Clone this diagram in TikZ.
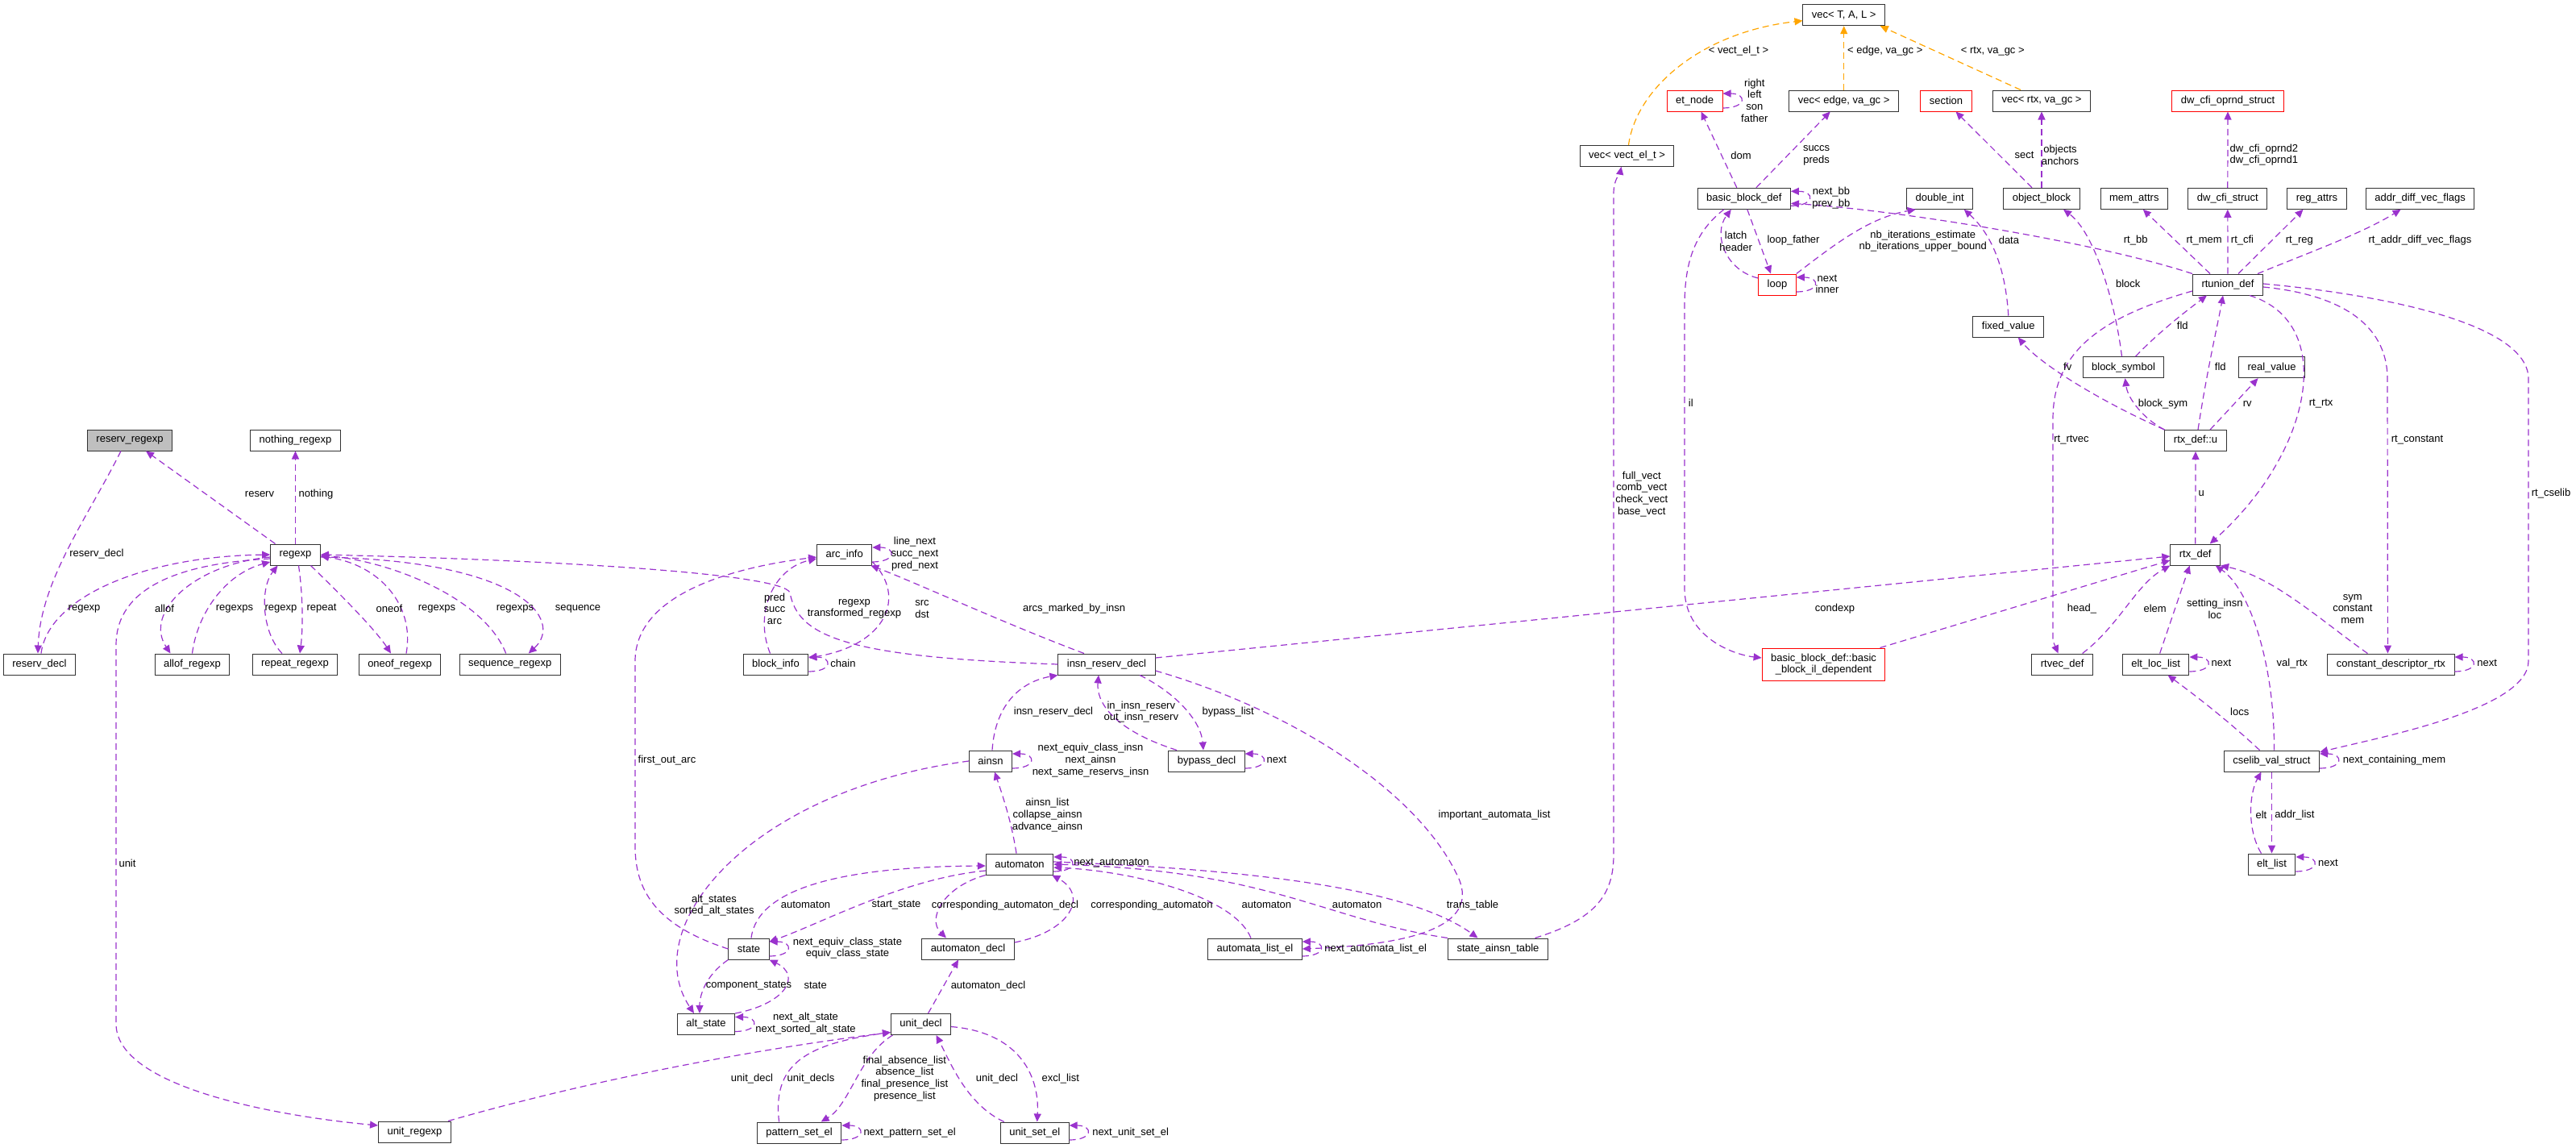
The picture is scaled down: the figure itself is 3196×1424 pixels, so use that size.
\documentclass[tikz,border=0pt]{standalone}
\usepackage{fontspec}
\setmainfont{Liberation Sans}
\usepackage{xcolor}
\usepackage{tikz}
\usetikzlibrary{arrows.meta}
\definecolor{edgecol}{HTML}{9A32CD}
\definecolor{tmplcol}{HTML}{FFA500}

\begin{document}
\begin{tikzpicture}[x=1pt,y=-1pt,>={Triangle[length=10pt,width=9pt]},
  box/.style={draw=black!80,line width=1pt,fill=white,minimum height=26pt,inner xsep=11pt,inner ysep=0pt,font=\fontsize{13}{14.7}\selectfont,align=center},
  redbox/.style={box,draw=red},
  lbl/.style={inner sep=0pt,font=\fontsize{13}{14.7}\selectfont,align=center},
  dep/.style={->,draw=edgecol,line width=1.2pt,dash pattern=on 8pt off 5pt},
  tmpl/.style={dep,draw=tmplcol}]
\useasboundingbox (0,0) rectangle (3196,1424);

\node[box,fill=black!25] (reservregexp) at (161,546) {reserv\_regexp};
\node[box] (nothingregexp) at (366.5,546) {nothing\_regexp};
\node[box] (regexp) at (366.5,688) {regexp};
\node[box] (reservdecl) at (49,824) {reserv\_decl};
\node[box] (allofregexp) at (238.5,824) {allof\_regexp};
\node[box] (repeatregexp) at (366,824) {repeat\_regexp};
\node[box] (oneofregexp) at (496,824) {oneof\_regexp};
\node[box] (sequenceregexp) at (632.7,824) {sequence\_regexp};
\node[box] (unitregexp) at (514.5,1404) {unit\_regexp};
\node[box] (arcinfo) at (1047.7,688) {arc\_info};
\node[box] (blockinfo) at (962.5,824) {block\_info};
\node[box] (insnreservdecl) at (1373,824) {insn\_reserv\_decl};
\node[box] (ainsn) at (1229,944) {ainsn};
\node[box] (bypassdecl) at (1497,944) {bypass\_decl};
\node[box] (automaton) at (1265,1072) {automaton};
\node[box] (state) at (929,1177) {state};
\node[box] (automatondecl) at (1201,1177) {automaton\_decl};
\node[box] (altstate) at (876,1270.5) {alt\_state};
\node[box] (unitdecl) at (1142.5,1270.5) {unit\_decl};
\node[box] (patternsetel) at (991.6,1405) {pattern\_set\_el};
\node[box] (unitsetel) at (1283.7,1405) {unit\_set\_el};
\node[box] (automatalistel) at (1557,1177) {automata\_list\_el};
\node[box] (stateainsntable) at (1858.5,1177) {state\_ainsn\_table};

\node[box] (vecTAL) at (2287.7,18.7) {vec< T, A, L >};
\node[redbox] (etnode) at (2102.5,125) {et\_node};
\node[box] (vecedge) at (2287.7,125) {vec< edge, va\_gc >};
\node[redbox] (section) at (2414.5,125) {section};
\node[box] (vecrtx) at (2533,125) {vec< rtx, va\_gc >};
\node[redbox] (dwcfioprnd) at (2764,125) {dw\_cfi\_oprnd\_struct};
\node[box] (vecvect) at (2018.5,193.3) {vec< vect\_el\_t >};
\node[box] (bbdef) at (2163.8,246.3) {basic\_block\_def};
\node[box] (doubleint) at (2406.7,246.3) {double\_int};
\node[box] (objectblock) at (2533,246.3) {object\_block};
\node[box] (memattrs) at (2647.8,246.3) {mem\_attrs};
\node[box] (dwcfistruct) at (2763.8,246.3) {dw\_cfi\_struct};
\node[box] (regattrs) at (2874.5,246.3) {reg\_attrs};
\node[box] (addrdiff) at (3002.6,246.3) {addr\_diff\_vec\_flags};
\node[redbox] (loop) at (2205,353) {loop};
\node[box] (rtunion) at (2764,353) {rtunion\_def};
\node[box] (fixedvalue) at (2491.8,405) {fixed\_value};
\node[box] (blocksymbol) at (2634.5,455.7) {block\_symbol};
\node[box] (realvalue) at (2818.5,455.7) {real\_value};
\node[box] (rtxu) at (2724,546.5) {rtx\_def::u};
\node[box] (rtxdef) at (2723.7,688) {rtx\_def};
\node[redbox,minimum height=40pt] (bbil) at (2262.5,824) {basic\_block\_def::basic\\\_block\_il\_dependent};
\node[box] (rtvecdef) at (2558.6,824) {rtvec\_def};
\node[box] (eltloclist) at (2674.6,824) {elt\_loc\_list};
\node[box] (constdesc) at (2966.4,824) {constant\_descriptor\_rtx};
\node[box] (cselib) at (2818.5,944) {cselib\_val\_struct};
\node[box] (eltlist) at (2818.5,1072) {elt\_list};

\draw[dep] ([xshift=-25pt]regexp.north) -- ([xshift=20pt]reservregexp.south);
\draw[dep] (regexp.north) -- (nothingregexp.south);
\draw[dep] ([xshift=-11pt]reservregexp.south) .. controls (110,640) and (50,720) .. ([xshift=-2pt]reservdecl.north);
\draw[dep] ([xshift=2pt]reservdecl.north) .. controls (60,740) and (180,690) .. (regexp.west);
\draw[dep] ([yshift=-3pt]regexp.west) .. controls (240,700) and (178,760) .. ([xshift=-27pt]allofregexp.north);
\draw[dep] (allofregexp.north) .. controls (245,760) and (280,712) .. ([yshift=-9pt]regexp.west);
\draw[dep] ([xshift=4pt]regexp.south) .. controls (376,740) and (376,780) .. ([xshift=6pt]repeatregexp.north);
\draw[dep] ([xshift=-16pt]repeatregexp.north) .. controls (325,785) and (322,730) .. ([xshift=-22pt]regexp.south);
\draw[dep] ([xshift=19pt]regexp.south) .. controls (420,735) and (465,780) .. ([xshift=-11pt]oneofregexp.north);
\draw[dep] ([xshift=8pt]oneofregexp.north) .. controls (515,750) and (470,700) .. ([yshift=-2pt]regexp.east);
\draw[dep] ([xshift=-5pt]sequenceregexp.north) .. controls (600,740) and (480,695) .. ([yshift=-1pt]regexp.east);
\draw[dep] ([yshift=-3pt]regexp.east) .. controls (650,695) and (700,770) .. ([xshift=23pt]sequenceregexp.north);
\draw[dep] ([yshift=-5pt]regexp.west) .. controls (200,700) and (144,740) .. (144,800) -- (144,1270) .. controls (144,1350) and (350,1385) .. ([yshift=8pt]unitregexp.west);
\draw[dep] ([xshift=-4pt]unitregexp.north east) .. controls (750,1335) and (950,1300) .. ([yshift=-10pt]unitdecl.west);

\draw[dep] ([xshift=-7pt]blockinfo.north) .. controls (935,760) and (960,705) .. ([yshift=-5pt]arcinfo.west);
\draw[dep] ([yshift=-9pt]arcinfo.east) .. controls (1125,740) and (1100,800) .. ([yshift=8pt]blockinfo.east);
\draw[dep] ([xshift=-28pt]insnreservdecl.north) .. controls (1250,775) and (1130,720) .. ([xshift=-2pt]arcinfo.south east);
\draw[dep] (insnreservdecl.west) .. controls (1050,815) and (990,790) .. (980,735) .. controls (970,712) and (700,695) .. (regexp.east);
\draw[dep] ([yshift=8pt]insnreservdecl.east) -- ([yshift=-2pt]rtxdef.west);
\draw[dep] ([xshift=41pt]insnreservdecl.south) .. controls (1460,860) and (1490,895) .. ([xshift=-4pt]bypassdecl.north);
\draw[dep] ([xshift=-37pt]bypassdecl.north) .. controls (1380,905) and (1360,870) .. ([xshift=-10pt]insnreservdecl.south);
\draw[dep] ([xshift=2pt]ainsn.north) .. controls (1235,870) and (1270,845) .. (insnreservdecl.south west);
\draw[dep] ([xshift=-4pt]automaton.north) .. controls (1255,1020) and (1245,990) .. ([xshift=5pt]ainsn.south);
\draw[dep] (ainsn.west) .. controls (930,980) and (790,1150) .. ([xshift=-15pt]altstate.north);
\draw[dep] (state.west) .. controls (820,1150) and (788,1110) .. (788,1050) -- (788,820) .. controls (788,740) and (900,705) .. ([yshift=-3pt]arcinfo.west);
\draw[dep] ([xshift=3pt]state.north) .. controls (940,1100) and (1050,1075) .. ([yshift=-2pt]automaton.west);
\draw[dep] ([yshift=-8pt]automaton.west) .. controls (1120,1090) and (1020,1145) .. ([yshift=9pt]state.east);
\draw[dep] (automaton.south west) .. controls (1170,1100) and (1150,1140) .. ([xshift=-27pt]automatondecl.north);
\draw[dep] ([yshift=8pt]automatondecl.east) .. controls (1330,1155) and (1350,1110) .. ([xshift=-2pt]automaton.south east);
\draw[dep] ([xshift=-5pt]automatalistel.north) .. controls (1530,1110) and (1400,1080) .. ([yshift=-4pt]automaton.east);
\draw[dep] (stateainsntable.north west) .. controls (1640,1140) and (1580,1080) .. (automaton.east);
\draw[dep] ([yshift=3pt]automaton.east) .. controls (1600,1080) and (1760,1110) .. ([xshift=-25pt]stateainsntable.north);
\draw[dep] ([yshift=-8pt]insnreservdecl.east) .. controls (1600,880) and (1760,980) .. (1810,1090) .. controls (1835,1150) and (1750,1172) .. (automatalistel.east);
\draw[dep] ([xshift=46pt]stateainsntable.north) .. controls (1980,1140) and (2002,1110) .. (2002,1060) -- (2002,240) .. controls (2002,222) and (2010,215) .. ([xshift=-7pt]vecvect.south);
\draw[dep] (state.south west) .. controls (875,1210) and (868,1235) .. ([xshift=-8pt]altstate.north);
\draw[dep] (altstate.north east) .. controls (975,1245) and (995,1210) .. (state.south east);
\draw[dep] ([xshift=9pt]unitdecl.north) -- ([xshift=-12pt]automatondecl.south);
\draw[dep] ([xshift=-25pt]patternsetel.north) .. controls (958,1320) and (1000,1295) .. ([yshift=-10pt]unitdecl.west);
\draw[dep] ([xshift=-35pt]unitdecl.south) .. controls (1065,1310) and (1055,1370) .. ([xshift=27pt]patternsetel.north);
\draw[dep] ([yshift=-3pt]unitdecl.east) .. controls (1260,1280) and (1290,1330) .. ([xshift=3pt]unitsetel.north);
\draw[dep] ([xshift=-38pt]unitsetel.north) .. controls (1200,1370) and (1180,1320) .. ([xshift=19pt]unitdecl.south);

\draw[tmpl] ([xshift=2pt]vecvect.north) .. controls (2030,110) and (2110,40) .. ([yshift=-7pt]vecTAL.west);
\draw[tmpl] (vecedge.north) -- (vecTAL.south);
\draw[tmpl] ([xshift=-26pt]vecrtx.north) -- ([xshift=45pt]vecTAL.south);
\draw[dep] ([xshift=-25pt]bbdef.south) .. controls (2100,290) and (2090,330) .. (2090,380) -- (2090,730) .. controls (2090,790) and (2150,812) .. ([yshift=8pt]bbil.west);
\draw[dep] ([xshift=70pt]bbil.north) -- ([yshift=-7pt]rtxdef.west);
\draw[dep] ([xshift=15pt]bbdef.north) -- ([xshift=-17pt]vecedge.south);
\draw[dep] ([xshift=-9pt]bbdef.north) -- ([xshift=8pt]etnode.south);
\draw[dep] ([xshift=-12pt]objectblock.north) -- ([xshift=12pt]section.south);
\draw[dep] (objectblock.north) -- (vecrtx.south);
\draw[dep] ([xshift=4pt]bbdef.south) -- ([xshift=-8pt]loop.north);
\draw[dep] ([yshift=8pt]loop.west) .. controls (2140,335) and (2125,290) .. ([xshift=-16pt]bbdef.south);
\draw[dep] (loop.north east) .. controls (2280,300) and (2320,270) .. ([xshift=-30pt]doubleint.south);
\draw[dep] (fixedvalue.north) .. controls (2488,330) and (2470,290) .. ([xshift=30pt]doubleint.south);
\draw[dep] (rtunion.north west) .. controls (2600,300) and (2350,260) .. ([yshift=-6pt]bbdef.east);
\draw[dep] ([xshift=-22pt]rtunion.north) -- ([xshift=11pt]memattrs.south);
\draw[dep] (rtunion.north) -- (dwcfistruct.south);
\draw[dep] ([xshift=13pt]rtunion.north) -- ([xshift=-17pt]regattrs.south);
\draw[dep] ([xshift=37pt]rtunion.north) .. controls (2860,315) and (2930,290) .. ([xshift=-24pt]addrdiff.south);
\draw[dep] (dwcfistruct.north) -- (dwcfioprnd.south);
\draw[dep] ([xshift=-2pt]blocksymbol.north) .. controls (2625,380) and (2600,290) .. ([xshift=27pt]objectblock.south);
\draw[dep] ([xshift=15pt]blocksymbol.north) .. controls (2680,410) and (2720,380) .. ([xshift=-26pt]rtunion.south);
\draw[dep] ([xshift=3pt]rtxu.north) .. controls (2738,460) and (2752,400) .. ([xshift=-6pt]rtunion.south);
\draw[dep] (rtxu.north west) .. controls (2660,520) and (2640,495) .. ([xshift=2pt]blocksymbol.south);
\draw[dep] ([xshift=18pt]rtxu.north) -- ([xshift=-17pt]realvalue.south);
\draw[dep] (rtxu.north west) .. controls (2600,495) and (2530,450) .. ([xshift=12pt]fixedvalue.south);
\draw[dep] ([yshift=-8pt]rtunion.west) .. controls (2600,395) and (2547,440) .. (2547,520) -- (2547,795) -- ([xshift=-5pt]rtvecdef.north);
\draw[dep] ([xshift=27pt]rtunion.south) .. controls (2900,400) and (2870,560) .. ([xshift=18pt]rtxdef.north);
\draw[dep] ([yshift=-3pt]rtunion.east) .. controls (2900,365) and (2962,400) .. (2962,470) -- ([xshift=-4pt]constdesc.north);
\draw[dep] ([yshift=1pt]rtunion.east) .. controls (2950,365) and (3137,400) .. (3137,470) -- (3137,820) .. controls (3137,880) and (2950,915) .. ([yshift=11pt]cselib.east);
\draw[dep] (rtxdef.north) -- (rtxu.south);
\draw[dep] ([xshift=25pt]rtvecdef.north) .. controls (2630,775) and (2650,725) .. (rtxdef.south west);
\draw[dep] ([xshift=5pt]eltloclist.north) -- ([xshift=-7pt]rtxdef.south);
\draw[dep] ([xshift=-29pt]constdesc.north) .. controls (2880,770) and (2820,715) .. (rtxdef.south east);
\draw[dep] ([xshift=3pt]cselib.north) .. controls (2822,820) and (2790,730) .. ([xshift=25pt]rtxdef.south);
\draw[dep] ([xshift=-15pt]cselib.north) .. controls (2760,890) and (2720,860) .. ([xshift=15pt]eltloclist.south);
\draw[dep] (cselib.south) -- (eltlist.north);
\draw[dep] ([xshift=-13pt]eltlist.north) .. controls (2788,1030) and (2790,985) .. ([xshift=-13pt]cselib.south);

\foreach \n in {arcinfo,blockinfo,ainsn,bypassdecl,automaton,state,altstate,patternsetel,unitsetel,automatalistel,etnode,bbdef,loop,eltloclist,constdesc,cselib,eltlist}
  \draw[dep] ([yshift=-9pt]\n.east) .. controls +(30,0) and +(30,0) .. ([yshift=9pt]\n.east);

\node[lbl] (lreserv) at (322,613) {reserv};
\node[lbl] (lnothing) at (392,613) {nothing};
\node[lbl] (lreservdecl) at (120,687) {reserv\_decl};
\node[lbl] (lregexpa) at (104.6,755) {regexp};
\node[lbl] (lallof) at (204,755) {allof};
\node[lbl] (lregexpsa) at (291,755) {regexps};
\node[lbl] (lregexpb) at (348.5,755) {regexp};
\node[lbl] (lrepeat) at (399,755) {repeat};
\node[lbl] (loneof) at (483,755) {oneof};
\node[lbl] (lregexpsb) at (542,755) {regexps};
\node[lbl] (lregexpsc) at (639,755) {regexps};
\node[lbl] (lsequence) at (717,755) {sequence};
\node[lbl] (lunit) at (158,1070.7) {unit};
\node[lbl] (larcnext) at (1135,687) {line\_next\\succ\_next\\pred\_next};
\node[lbl] (lpred) at (961,755.3) {pred\\succ\\arc};
\node[lbl] (lregexpc) at (1060,755.3) {regexp\\transformed\_regexp};
\node[lbl] (lsrc) at (1144,755.3) {src\\dst};
\node[lbl] (larcs) at (1332.6,755) {arcs\_marked\_by\_insn};
\node[lbl] (lchain) at (1046,822.7) {chain};
\node[lbl] (linsndecl) at (1307,882.7) {insn\_reserv\_decl};
\node[lbl] (linout) at (1415.8,883.2) {in\_insn\_reserv\\out\_insn\_reserv};
\node[lbl] (lbypasslist) at (1523.7,882.7) {bypass\_list};
\node[lbl] (lbypassnext) at (1584,942.7) {next};
\node[lbl] (lainsnnext) at (1353,943.2) {next\_equiv\_class\_insn\\next\_ainsn\\next\_same\_reservs\_insn};
\node[lbl] (lfirstout) at (827.5,942.7) {first\_out\_arc};
\node[lbl] (lainsnlist) at (1299.5,1011.2) {ainsn\_list\\collapse\_ainsn\\advance\_ainsn};
\node[lbl] (lnextautomaton) at (1379,1071) {next\_automaton};
\node[lbl] (laltstates) at (886,1123.2) {alt\_states\\sorted\_alt\_states};
\node[lbl] (lautomatona) at (999.5,1122.7) {automaton};
\node[lbl] (lstartstate) at (1112,1122.7) {start\_state};
\node[lbl] (lcorrdecl) at (1247,1122.7) {corresponding\_automaton\_decl};
\node[lbl] (lcorr) at (1429,1122.7) {corresponding\_automaton};
\node[lbl] (lautomatonb) at (1571.4,1122.7) {automaton};
\node[lbl] (lautomatonc) at (1683.5,1122.7) {automaton};
\node[lbl] (ltranstable) at (1827,1122.7) {trans\_table};
\node[lbl] (limportant) at (1854,1010.7) {important\_automata\_list};
\node[lbl] (lnextautolist) at (1706.7,1176.7) {next\_automata\_list\_el};
\node[lbl] (lstatenext) at (1051.5,1176.2) {next\_equiv\_class\_state\\equiv\_class\_state};
\node[lbl] (lcomponent) at (929,1222.7) {component\_states};
\node[lbl] (lstate) at (1011.7,1222.7) {state};
\node[lbl] (lautodecl) at (1226,1222.7) {automaton\_decl};
\node[lbl] (laltnext) at (999.5,1269.9) {next\_alt\_state\\next\_sorted\_alt\_state};
\node[lbl] (lunitdecla) at (933,1337.7) {unit\_decl};
\node[lbl] (lunitdecls) at (1006,1337.7) {unit\_decls};
\node[lbl] (lpatterns) at (1122.4,1337.7) {final\_absence\_list\\absence\_list\\final\_presence\_list\\presence\_list};
\node[lbl] (lunitdeclb) at (1237,1337.7) {unit\_decl};
\node[lbl] (lexcl) at (1315.8,1337.7) {excl\_list};
\node[lbl] (lpatternnext) at (1128.6,1405) {next\_pattern\_set\_el};
\node[lbl] (lunitsetnext) at (1402.6,1405) {next\_unit\_set\_el};
\node[lbl] (lvect) at (2157,63.3) {< vect\_el\_t >};
\node[lbl] (ledge) at (2338.8,63.3) {< edge, va\_gc >};
\node[lbl] (lrtxvec) at (2472.3,63.3) {< rtx, va\_gc >};
\node[lbl] (letnext) at (2176.8,124.5) {right\\left\\son\\father};
\node[lbl] (ldom) at (2160,192.7) {dom};
\node[lbl] (lsuccs) at (2253.6,192.5) {succs\\preds};
\node[lbl] (lsect) at (2511.6,192.7) {sect};
\node[lbl] (lobjects) at (2556,192.5) {objects\\anchors};
\node[lbl] (loprnd) at (2808.8,192.2) {dw\_cfi\_oprnd2\\dw\_cfi\_oprnd1};
\node[lbl] (lbbnext) at (2271.9,245.7) {next\_bb\\prev\_bb};
\node[lbl] (llatch) at (2153.6,299) {latch\\header};
\node[lbl] (lloopfather) at (2225,298.3) {loop\_father};
\node[lbl] (lnbiter) at (2385.7,299) {nb\_iterations\_estimate\\nb\_iterations\_upper\_bound};
\node[lbl] (ldata) at (2492.4,298.3) {data};
\node[lbl] (lrtbb) at (2649.7,298.3) {rt\_bb};
\node[lbl] (lrtmem) at (2734.6,298.3) {rt\_mem};
\node[lbl] (lrtcfi) at (2782,298.3) {rt\_cfi};
\node[lbl] (lrtreg) at (2852.8,298.3) {rt\_reg};
\node[lbl] (lrtaddr) at (3002.4,298.3) {rt\_addr\_diff\_vec\_flags};
\node[lbl] (lloopnext) at (2267,352.5) {next\\inner};
\node[lbl] (lblock) at (2640.2,352.3) {block};
\node[lbl] (lflda) at (2707.8,404) {fld};
\node[lbl] (lfv) at (2565.2,455) {fv};
\node[lbl] (lfldb) at (2754.8,455) {fld};
\node[lbl] (lblocksym) at (2683.5,500.7) {block\_sym};
\node[lbl] (lrv) at (2788.2,500.7) {rv};
\node[lbl] (lrtrtx) at (2879.6,500.7) {rt\_rtx};
\node[lbl] (lil) at (2097.8,500) {il};
\node[lbl] (lrtrtvec) at (2570,545.7) {rt\_rtvec};
\node[lbl] (lrtconst) at (2999,545.7) {rt\_constant};
\node[lbl] (lvects) at (2036.8,612.8) {full\_vect\\comb\_vect\\check\_vect\\base\_vect};
\node[lbl] (lu) at (2731.3,612.3) {u};
\node[lbl] (lrtcselib) at (3165,612.3) {rt\_cselib};
\node[lbl] (lcondexp) at (2276.4,755) {condexp};
\node[lbl] (lhead) at (2583,755) {head\_};
\node[lbl] (lelem) at (2673.6,755) {elem};
\node[lbl] (lsetting) at (2747.8,755) {setting\_insn\\loc};
\node[lbl] (lsym) at (2918.8,755.3) {sym\\constant\\mem};
\node[lbl] (leltlocnext) at (2756,822.7) {next};
\node[lbl] (lvalrtx) at (2843.8,822.7) {val\_rtx};
\node[lbl] (lconstnext) at (3085.6,822.7) {next};
\node[lbl] (llocs) at (2778.7,882.7) {locs};
\node[lbl] (lnextcont) at (2970.5,942.7) {next\_containing\_mem};
\node[lbl] (lelt) at (2805.4,1010.7) {elt};
\node[lbl] (laddrlist) at (2847,1010.7) {addr\_list};
\node[lbl] (leltlistnext) at (2888.4,1070.7) {next};
\end{tikzpicture}
\end{document}
